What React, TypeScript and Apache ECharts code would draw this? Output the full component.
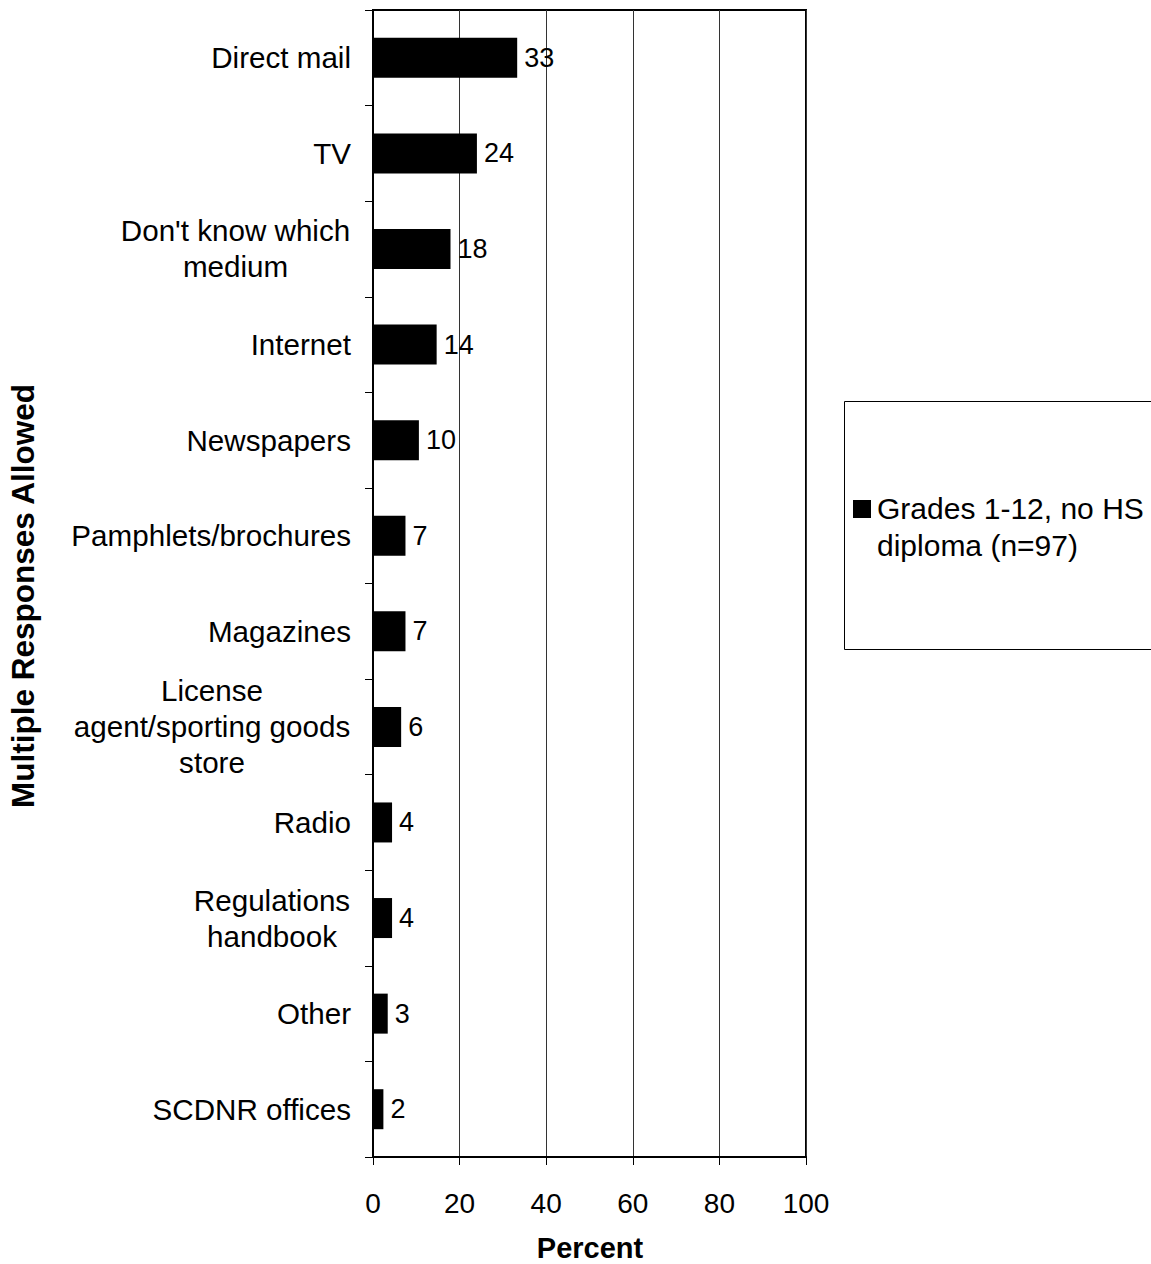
import React, { useEffect, useRef } from "react";
import * as echarts from "echarts";

const categories = [
  "Direct mail",
  "TV",
  "Don't know which\nmedium",
  "Internet",
  "Newspapers",
  "Pamphlets/brochures",
  "Magazines",
  "License\nagent/sporting goods\nstore",
  "Radio",
  "Regulations\nhandbook",
  "Other",
  "SCDNR offices",
];
const values = [33.3, 24.0, 17.9, 14.7, 10.6, 7.5, 7.5, 6.5, 4.4, 4.4, 3.4, 2.4];
const valueLabels = ["33", "24", "18", "14", "10", "7", "7", "6", "4", "4", "3", "2"];
const xTicks = [0, 20, 40, 60, 80, 100];
const seriesName = "Grades 1-12, no HS\ndiploma (n=97)";
const yTitle = "Multiple Responses Allowed";
const xTitle = "Percent";

const FONT = "'Liberation Sans', Arial, Helvetica, sans-serif";
const CAT_SIZE = 29.6;
const CAT_LH = 36;

function measure(text: string, font: string): number {
  const c = document.createElement("canvas");
  const ctx = c.getContext("2d");
  if (!ctx) return text.length * 15;
  ctx.font = font;
  return ctx.measureText(text).width;
}

export default function App() {
  const ref = useRef<HTMLDivElement>(null);
  useEffect(() => {
    if (!ref.current) return;
    const chart = echarts.init(ref.current, undefined, { renderer: "svg" });
    const catFont = `${CAT_SIZE}px ${FONT}`;
    const rich: Record<string, any> = {};
    categories.forEach((c, i) => {
      if (c.indexOf("\n") >= 0) {
        const w = Math.max(...c.split("\n").map((l) => measure(l, catFont)));
        rich["m" + i] = {
          width: Math.ceil(w) + 1,
          align: "center",
          fontSize: CAT_SIZE,
          lineHeight: CAT_LH,
          color: "#000",
          fontFamily: FONT,
        };
      }
    });
    const option = {
      animation: false,
      backgroundColor: "#fff",
      textStyle: { fontFamily: FONT },
      grid: {
        left: 373,
        top: 10,
        width: 433,
        height: 1147,
        show: true,
        borderColor: "#000",
        borderWidth: 2,
        backgroundColor: "transparent",
      },
      xAxis: {
        type: "value",
        min: xTicks[0],
        max: xTicks[xTicks.length - 1],
        interval: 20,
        axisLine: { show: true, onZero: false, lineStyle: { color: "#000", width: 2 } },
        axisTick: { show: true, length: 8, lineStyle: { color: "#000", width: 1 } },
        axisLabel: { fontSize: 28, color: "#000", margin: 32, fontFamily: FONT },
        splitLine: { show: true, lineStyle: { color: "#333", width: 1 } },
      },
      yAxis: {
        type: "category",
        inverse: true,
        data: categories,
        axisLine: { show: true, lineStyle: { color: "#000", width: 2 } },
        axisTick: { show: true, length: 8, alignWithLabel: false, lineStyle: { color: "#000", width: 1 } },
        axisLabel: {
          fontSize: CAT_SIZE,
          color: "#000",
          margin: 22,
          lineHeight: CAT_LH,
          align: "right",
          fontFamily: FONT,
          rich,
          formatter: (v: string) => {
            if (v.indexOf("\n") < 0) return v;
            const i = categories.indexOf(v);
            return v
              .split("\n")
              .map((l) => `{m${i}|${l}}`)
              .join("\n");
          },
        },
        splitLine: { show: false },
      },
      series: [
        {
          type: "bar",
          name: seriesName,
          data: values,
          barWidth: 40,
          itemStyle: { color: "#000" },
          label: {
            show: true,
            position: "right",
            distance: 7,
            fontSize: 27,
            color: "#000",
            fontFamily: FONT,
            formatter: (p: any) => valueLabels[p.dataIndex],
          },
        },
      ],
      graphic: [
        {
          type: "text",
          x: 23,
          y: 596,
          rotation: Math.PI / 2,
          style: {
            text: yTitle,
            font: `bold 31.5px ${FONT}`,
            fill: "#000",
            align: "center",
            verticalAlign: "middle",
          },
        },
        {
          type: "text",
          x: 590,
          y: 1248,
          style: {
            text: xTitle,
            font: `bold 29px ${FONT}`,
            fill: "#000",
            align: "center",
            verticalAlign: "middle",
          },
        },
        {
          type: "rect",
          shape: { x: 844.5, y: 401.5, width: 330, height: 248 },
          style: { fill: "#fff", stroke: "#000", lineWidth: 1 },
        },
        {
          type: "rect",
          shape: { x: 853, y: 500, width: 18, height: 18 },
          style: { fill: "#000" },
        },
        {
          type: "text",
          x: 877,
          y: 490,
          style: {
            text: seriesName,
            font: `30px ${FONT}`,
            lineHeight: 37,
            fill: "#000",
            align: "left",
            verticalAlign: "top",
          },
        },
      ],
    };
    chart.setOption(option as any);
    return () => chart.dispose();
  }, []);
  return (
    <div
      ref={ref}
      style={{ position: "absolute", left: 0, top: 0, width: 1151, height: 1264 }}
    />
  );
}
